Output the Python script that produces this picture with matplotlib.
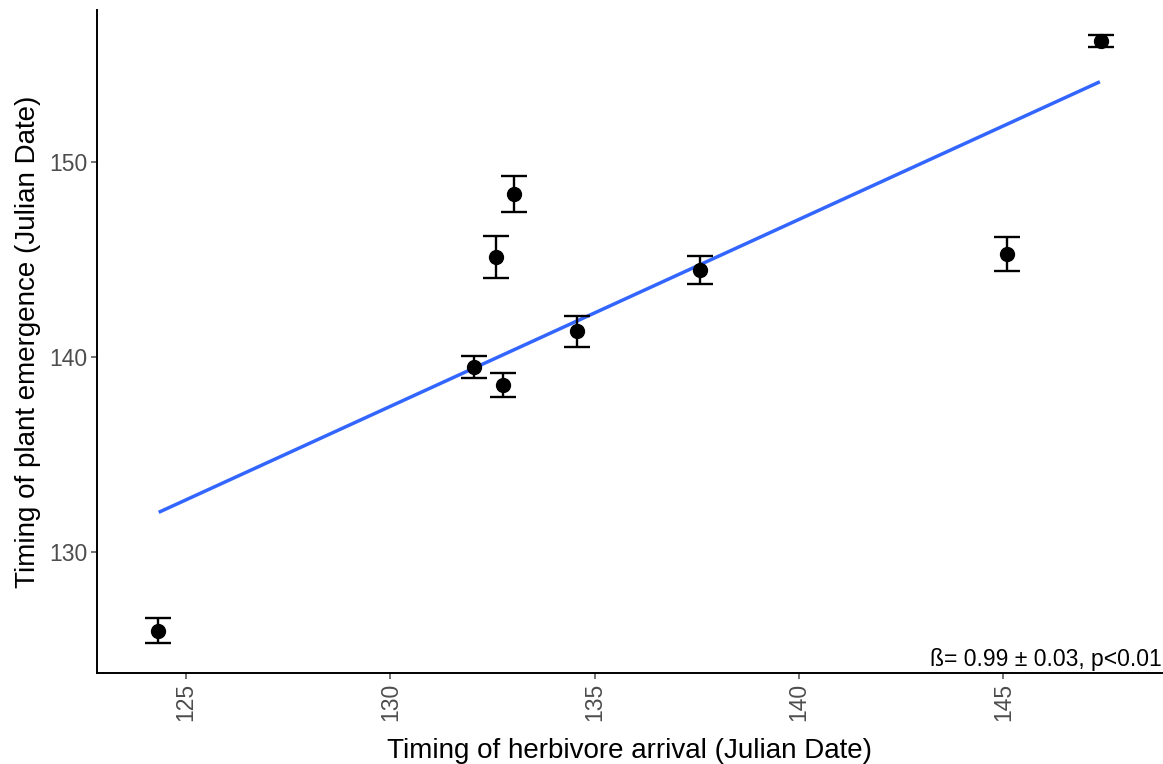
import matplotlib
matplotlib.use("Agg")
import matplotlib.pyplot as plt
import numpy as np

plt.rcParams['font.family'] = ['Liberation Sans', 'DejaVu Sans']

# Mean timing per site (Julian dates) with standard errors
herbivore_arrival = [124.31, 132.05, 132.58, 132.76, 133.03, 134.57, 137.58, 145.09, 147.39]
plant_emergence = [125.97, 139.50, 145.12, 138.58, 148.37, 141.32, 144.47, 145.30, 156.21]
emergence_se = [0.65, 0.55, 1.08, 0.62, 0.92, 0.79, 0.73, 0.87, 0.30]

# Fitted regression line endpoints
fit_x = [124.33, 147.36]
fit_y = [132.04, 154.12]

x_ticks = [125, 130, 135, 140, 145]
y_ticks = [130, 140, 150]

fig = plt.figure(figsize=(11.63, 7.64), dpi=100)
ax = fig.add_axes([97 / 1163, 1 - 673 / 764, (1162 - 97) / 1163, (673 - 10) / 764])

ax.plot(fit_x, fit_y, color='#3366FF', lw=2.5, solid_capstyle='butt', zorder=2)
ax.errorbar(herbivore_arrival, plant_emergence, yerr=emergence_se, fmt='o',
            color='black', ms=10, elinewidth=1.7, capsize=9.4, capthick=1.7, zorder=3)

ax.set_xlim(122.82, 148.88)
ax.set_ylim(123.8, 157.8)
ax.set_xticks(x_ticks)
ax.set_yticks(y_ticks)
ax.set_xticklabels([str(t) for t in x_ticks], rotation=90)

for side in ['top', 'right']:
    ax.spines[side].set_visible(False)
for side in ['left', 'bottom']:
    ax.spines[side].set_linewidth(1.4)
    ax.spines[side].set_color('black')

ax.tick_params(axis='both', colors='#4D4D4D', labelsize=16.5, length=4, width=1.1)
ax.tick_params(axis='x', pad=3)
ax.tick_params(axis='y', pad=3)

ax.set_xlabel('Timing of herbivore arrival (Julian Date)', fontsize=20, color='black', labelpad=12)
ax.set_ylabel('Timing of plant emergence (Julian Date)', fontsize=20, color='black', labelpad=6)

ax.text(1.0, 0.003, 'ß= 0.99 ± 0.03, p<0.01', transform=ax.transAxes,
        ha='right', va='bottom', fontsize=16.5, color='black')

fig.savefig('out.png', dpi=100)
